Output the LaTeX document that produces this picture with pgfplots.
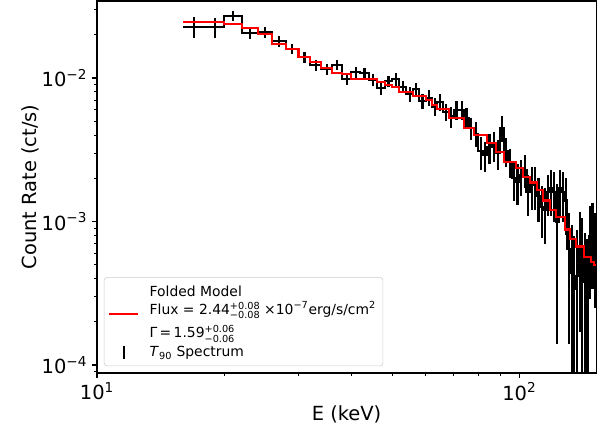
\documentclass[border=0pt]{standalone}
\usepackage{fontspec}
\setmainfont{DejaVu Sans}
\usepackage{pgfplots}
\usepackage{pgfplotstable}
\pgfplotsset{compat=1.18}
\definecolor{legendedge}{HTML}{CCCCCC}

% stacked +err / -err, as matplotlib draws ^{+a}_{-b}
\newcommand{\pmst}[2]{{\fontsize{7}{7.5}\selectfont\renewcommand{\arraystretch}{0.8}\begin{tabular}[c]{@{}l@{}}#1\\#2\end{tabular}}}

% bins: edges lo/hi, centre c, rate y with errors, folded model m
\pgfplotstableread{
lo hi c y ep em m
16 18 17 0.0227 0.0038 0.0038 0.0245
18 20 19 0.0227 0.0036 0.0036 0.0245
20 22 21 0.0270 0.0022 0.0022 0.0237
22 24 23 0.0206 0.0018 0.0018 0.0224
24 26 25 0.0208 0.0017 0.0017 0.0202
26 28 27 0.0180 0.0015 0.0015 0.0173
28 30 29 0.0159 0.0013 0.0013 0.0160
30 32 31 0.0140 0.0012 0.0012 0.0139
32 34 33 0.0123 0.0011 0.0011 0.0129
34 36 35 0.0115 0.0010 0.0010 0.0118
36 38 37 0.0123 0.0010 0.0010 0.0108
38 40 39 0.0099 0.0009 0.0009 0.0107
40 42 41 0.0110 0.0010 0.0010 0.0098
42 44 43 0.0108 0.0010 0.0010 0.0098
44 46 45 0.0097 0.0009 0.0009 0.0098
46 48 47 0.0085 0.0009 0.0009 0.0094
48 50 49 0.0095 0.0009 0.0009 0.0090
50 52 51 0.0098 0.0010 0.0010 0.0087
52 54 53 0.0087 0.0009 0.0009 0.0080
54 56 55 0.0077 0.0009 0.0009 0.0080
56 58 57 0.0084 0.0009 0.0009 0.0075
58 60 59 0.0069 0.0008 0.0008 0.0075
60 62 61 0.0073 0.0009 0.0009 0.0070
62 64 63 0.0063 0.0009 0.0009 0.0065
64 66 65 0.0068 0.0009 0.0009 0.0061
66 68 67 0.0058 0.0008 0.0008 0.0061
68 70 69 0.0054 0.0009 0.0009 0.0053
70 72 71 0.0060 0.0009 0.0009 0.0053
72 74 73 0.0060 0.0009 0.0009 0.0053
74 76 75 0.0053 0.0009 0.0009 0.0045
76 78 77 0.0045 0.0008 0.0008 0.0045
78 80 79 0.0041 0.0008 0.0008 0.0040
80 82 81 0.0031 0.0008 0.0008 0.0040
82 84 83 0.0029 0.0007 0.0007 0.0040
84 86 85 0.0033 0.0008 0.0008 0.0035
86 88 87 0.0034 0.0008 0.0008 0.0035
88 90 89 0.0030 0.0007 0.0007 0.00306
90 92 91 0.0045 0.0009 0.0009 0.00306
92 94 93 0.0031 0.0007 0.0007 0.00261
94 96 95 0.0026 0.0006 0.0006 0.00261
96 98 97 0.0020 0.0006 0.0006 0.00261
98 100 99 0.0019 0.0006 0.0006 0.00237
100 102 101 0.0021 0.0006 0.0006 0.00237
102 104 103 0.0023 0.0006 0.0006 0.00205
104 106 105 0.0016 0.0005 0.0005 0.00205
106 108 107 0.0018 0.0006 0.0006 0.00187
108 110 109 0.0018 0.0006 0.0006 0.00187
110 112 111 0.0015 0.0005 0.0005 0.00167
112 114 113 0.00127 0.0005 0.0005 0.00167
114 116 115 0.0012 0.0005 0.0005 0.00140
116 118 117 0.0016 0.0005 0.0005 0.00140
118 120 119 0.0017 0.0006 0.0006 0.00121
120 122 121 0.0016 0.0006 0.0006 0.00121
122 124 123 0.00099 0.00085 0.00085 0.00107
124 126 125 0.0017 0.0006 0.0006 0.00107
126 128 127 0.0016 0.0006 0.0006 0.00107
128 130 129 0.0014 0.0006 0.0006 0.00088
130 132 131 0.00064 0.0005 0.0005 0.00088
132 134 133 0.00044 0.0005 0.00043 0.00075
134 136 135 0.00034 0.00045 0.00033 0.00075
136 138 137 0.00042 0.00045 0.00041 0.00067
138 140 139 0.00067 0.0005 0.0005 0.00067
140 142 141 0.00055 0.0005 0.0005 0.00067
142 144 143 0.00038 0.00045 0.00037 0.00057
144 146 145 0.00030 0.00045 0.00029 0.00057
146 148 147 0.00079 0.0005 0.0005 0.00057
148 150 149 0.00084 0.0005 0.0005 0.00052
150 152 151 0.00070 0.00045 0.00045 0.00050
152 nan nan 0.00070 0 0 0.00050
}\spec

\begin{document}
\begin{tikzpicture}
\useasboundingbox (-69.8pt,-42.5pt) rectangle (365.7pt,268.5pt);
\begin{loglogaxis}[
  scale only axis,
  width=359.3pt, height=267.8pt,
  xmin=10, xmax=152, ymin=8.8e-5, ymax=0.0344,
  xtick={10,100}, xticklabels={10\textsuperscript{1},10\textsuperscript{2}},
  ytick={1e-4,1e-3,1e-2},
  yticklabels={10\textsuperscript{−4},10\textsuperscript{−3},10\textsuperscript{−2}},
  minor xtick={20,30,40,50,60,70,80,90},
  minor ytick={9e-5,2e-4,3e-4,4e-4,5e-4,6e-4,7e-4,8e-4,9e-4,2e-3,3e-3,4e-3,5e-3,6e-3,7e-3,8e-3,9e-3,2e-2,3e-2},
  tick align=outside, tick pos=left,
  major tick length=3.5pt, minor tick length=2pt,
  major tick style={black, line width=0.8pt},
  minor tick style={black, line width=0.6pt},
  axis line style={line width=0.8pt},
  tick label style={font=\fontsize{14}{17}\selectfont},
  label style={font=\fontsize{14}{17}\selectfont},
  xlabel={E (keV)}, ylabel={Count Rate (ct/s)},
  xlabel style={at={(axis description cs:0.5,-0.110)}, anchor=center},
  ylabel style={at={(axis description cs:-0.134,0.5)}, anchor=center},
  legend cell align=left,
  legend style={at={(axis description cs:0,0)}, anchor=south west,
    xshift=5pt, yshift=5pt, draw=legendedge, rounded corners=2pt,
    fill=white, font=\fontsize{10}{12}\selectfont, inner sep=3pt,
    row sep=1pt},
]
\addlegendimage{red, line width=1.5pt,
  legend image code/.code={\path[draw=none] (0pt,0pt) -- (27pt,0pt);
    \draw[red, line width=1.5pt] (0pt,-1.5pt) -- (20.5pt,-1.5pt);}}
\addlegendentry{\begin{tabular}[b]{@{}l@{}}Folded Model\\[0.5pt]
  Flux = 2.44\pmst{+0.08}{−0.08} ×10\textsuperscript{−7}erg/s/cm\textsuperscript{2}\\[4.5pt]
  Γ\,=\,1.59\pmst{+0.06}{−0.06}\end{tabular}}
\addlegendimage{black, line width=1.5pt,
  legend image code/.code={\path[draw=none] (0pt,0pt) -- (27pt,0pt);
    \draw[black, line width=1.5pt] (10.5pt,-4.5pt) -- (10.5pt,4.5pt);}}
\addlegendentry{\textit{T}\textsubscript{90} Spectrum}

\addplot[forget plot, black, line width=1.5pt, const plot, mark=none]
  table[x=lo, y=y] {\spec};
\addplot[forget plot, draw=none, mark=none,
  error bars/.cd, y dir=both, y explicit, error mark=none,
  error bar style={draw=black, line width=1.5pt}]
  table[x=c, y=y, y error plus=ep, y error minus=em] {\spec};
\addplot[forget plot, red, line width=1.5pt, const plot, mark=none]
  table[x=lo, y=m] {\spec};
\end{loglogaxis}
\end{tikzpicture}
\end{document}
